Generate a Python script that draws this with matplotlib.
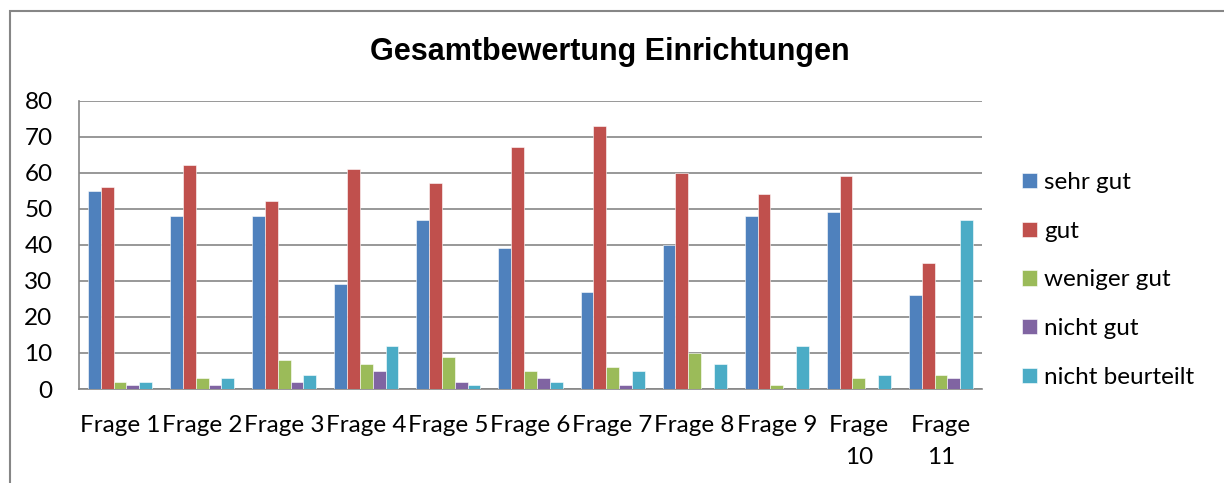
import numpy as np
import matplotlib
matplotlib.use('Agg')
import matplotlib.pyplot as plt
from matplotlib.patches import Rectangle

# Data
fragen = ['Frage 1', 'Frage 2', 'Frage 3', 'Frage 4', 'Frage 5', 'Frage 6',
          'Frage 7', 'Frage 8', 'Frage 9', 'Frage\n10', 'Frage\n11']
sehr_gut = [55, 48, 48, 29, 47, 39, 27, 40, 48, 49, 26]
gut = [56, 62, 52, 61, 57, 67, 73, 60, 54, 59, 35]
weniger_gut = [2, 3, 8, 7, 9, 5, 6, 10, 1, 3, 4]
nicht_gut = [1, 1, 2, 5, 2, 3, 1, 0, 0, 0, 3]
nicht_beurteilt = [2, 3, 4, 12, 1, 2, 5, 7, 12, 4, 47]

series = [
    ('sehr gut', sehr_gut, '#4F81BD'),
    ('gut', gut, '#C0504D'),
    ('weniger gut', weniger_gut, '#9BBB59'),
    ('nicht gut', nicht_gut, '#8064A2'),
    ('nicht beurteilt', nicht_beurteilt, '#4BACC6'),
]

plt.rcParams['font.family'] = ['Lato', 'DejaVu Sans']

W, H = 1224, 483
fig = plt.figure(figsize=(W / 100, H / 100), dpi=100)

# chart area border
fig.patches.append(Rectangle((10 / W, -0.05), 1.2, 1 - 11 / H + 0.05,
                             transform=fig.transFigure, fill=False,
                             edgecolor='#868686', linewidth=1.5))

ax = fig.add_axes([79 / W, 1 - 389 / H, (982 - 79) / W, (389 - 100.5) / H])

x = np.arange(len(fragen))
bw = 0.156
for i, (name, vals, col) in enumerate(series):
    ax.bar(x + (i - 2) * bw, vals, width=bw, color=col, label=name,
           edgecolor='white', linewidth=0.4, zorder=3)

ax.set_xlim(-0.5, len(fragen) - 0.5)
ax.set_ylim(0, 80)
ax.set_yticks(range(0, 81, 10))
ax.set_xticks(x)
ax.set_xticklabels(fragen, linespacing=1.65)
ax.yaxis.grid(True, color='#868686', linewidth=1.2, zorder=0)
ax.set_axisbelow(True)
for s in ['top', 'right']:
    ax.spines[s].set_visible(False)
for s in ['left', 'bottom']:
    ax.spines[s].set_color('#868686')
    ax.spines[s].set_linewidth(1.2)
ax.tick_params(axis='y', length=0, pad=19, labelsize=17.5)
ax.tick_params(axis='x', length=0, pad=19, labelsize=17.5)
for lab in ax.get_xticklabels():
    lab.set_verticalalignment('top')

fig.text(610 / W, 1 - 52 / H, 'Gesamtbewertung Einrichtungen',
         ha='center', va='center', fontsize=22, fontweight='bold',
         family='Liberation Sans')

ax.legend(loc='center left', bbox_to_anchor=(1022 / W, 1 - 280 / H),
          bbox_transform=fig.transFigure, frameon=False, fontsize=17.5,
          handlelength=0.6, handleheight=0.6, handletextpad=0.3,
          labelspacing=1.14, borderpad=0, borderaxespad=0)

fig.savefig('out.png', dpi=100)
